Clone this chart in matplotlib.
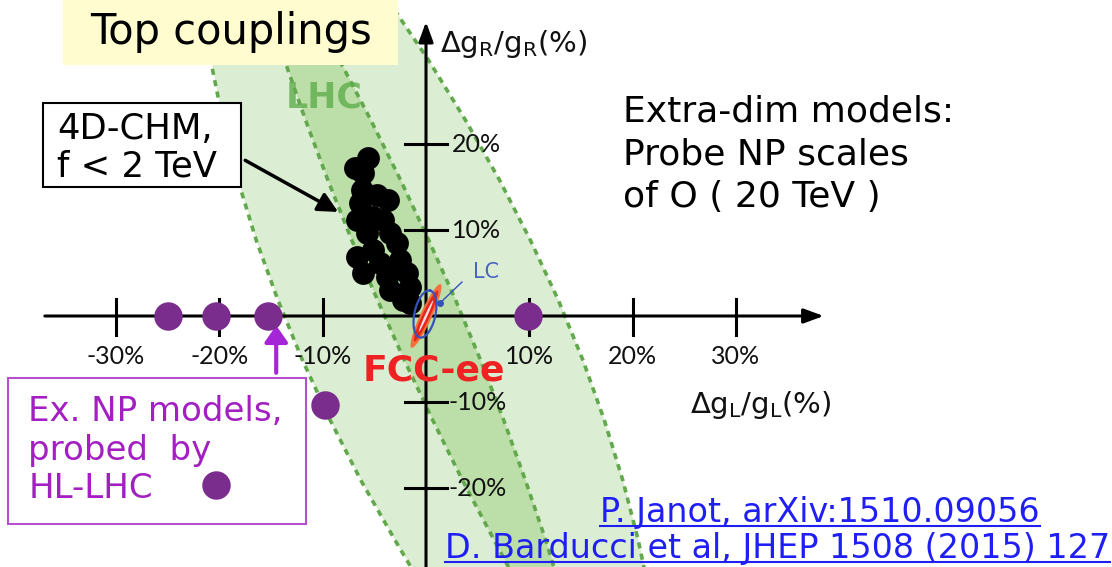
import numpy as np
import matplotlib
matplotlib.use("Agg")
import matplotlib.pyplot as plt
from matplotlib.patches import Rectangle

# ---- drawing scale (pixels per percent) and canvas ----
W, H, DPI = 1112, 567, 100
X0_PX, Y0_PX = 426, 316          # origin of the coupling plane on the canvas
PX_X, PX_Y = 10.33, 8.6          # pixels per 1 % along each axis

# ---- LHC allowed region: band edges sampled along dgR/gR (%) ----
band_y = [36.7, 29.8, 22.8, 15.8, 8.8, 1.9, -5.1, -12.1, -19.1, -26.0, -29.2]
outer_left = [-21.74, -20.86, -19.68, -18.21, -16.43, -14.35, -11.97, -9.28, -6.31, -3.03, -1.46]
outer_right = [-3.68, 0.22, 3.81, 7.12, 10.11, 12.79, 15.18, 17.26, 19.05, 20.53, 21.1]
inner_left = [-15.6, -13.71, -11.67, -9.5, -7.18, -4.71, -2.11, 0.65, 3.53, 6.57, 7.99]
inner_right = [-11.61, -8.4, -5.35, -2.46, 0.27, 2.85, 5.27, 7.52, 9.62, 11.57, 12.38]

# ---- 4D composite Higgs model points (f < 2 TeV) ----
chm_x = [-5.58, -6.87, -6.07, -6.22, -4.77, -3.65, -6.39, -6.71, -5.10, -4.13, -5.74, -3.48,
         -2.83, -6.71, -5.10, -4.45, -2.51, -6.07, -1.87, -3.80, -3.48, -1.55, -2.19, -1.55]
chm_y = [18.34, 17.17, 16.59, 14.65, 14.07, 13.49, 13.10, 11.16, 11.55, 11.16, 9.62, 9.62,
         8.45, 6.90, 7.67, 6.13, 6.51, 4.97, 4.97, 4.57, 3.02, 3.41, 1.86, 1.48]

# ---- example NP models probed by HL-LHC ----
np_x = [-25.0, -20.3, -15.3, 9.9, -9.8, -20.3]
np_y = [0.0, 0.0, 0.0, 0.0, -10.3, -19.7]

# ---- axis ticks ----
xticks = [-30, -20, -10, 10, 20, 30]
xtick_labels = ["-30%", "-20%", "-10%", "10%", "20%", "30%"]
yticks = [20, 10, -10, -20]
ytick_labels = ["20%", "10%", "-10%", "-20%"]

# ---- colours ----
C_LIGHT = "#dbedd2"
C_DARK = "#bcdea9"
C_DASH = "#62a84c"
C_PURPLE = "#7a2d8c"
C_MAGENTA = "#a31fc2"
C_LINK = "#1f1ff5"

fig = plt.figure(figsize=(W / DPI, H / DPI), dpi=DPI)
ax = fig.add_axes([0, 0, 1, 1])
ax.set_xlim((0 - X0_PX) / PX_X, (W - X0_PX) / PX_X)
ax.set_ylim((Y0_PX - H) / PX_Y, Y0_PX / PX_Y)
ax.axis("off")


def ellipse_xy(cx, cy, a_px, b_px, ang_deg, n=120):
    """Ellipse given in screen pixels, returned in data coordinates."""
    t = np.linspace(0, 2 * np.pi, n)
    th = np.deg2rad(ang_deg)
    ex = a_px * np.cos(t) * np.cos(th) - b_px * np.sin(t) * np.sin(th)
    ey = a_px * np.cos(t) * np.sin(th) + b_px * np.sin(t) * np.cos(th)
    return cx + ex / PX_X, cy + ey / PX_Y


# LHC bands
ax.fill_betweenx(band_y, outer_left, outer_right, color=C_LIGHT, lw=0, zorder=1)
ax.fill_betweenx(band_y, inner_left, inner_right, color=C_DARK, lw=0, zorder=1.1)
for edge in (outer_left, outer_right, inner_left, inner_right):
    ax.plot(edge, band_y, color=C_DASH, lw=2.6, dashes=(1.7, 1.5), zorder=1.2)
ax.text(-9.9, 25.4, "LHC", color="#5fae4c", alpha=0.8, fontsize=25, fontweight="bold",
        ha="center", va="center", zorder=1.3)

# coordinate axes with arrow heads
arrow_kw = dict(arrowstyle="-|>,head_length=0.6,head_width=0.22", lw=2.2, color="black",
                shrinkA=0, shrinkB=0, mutation_scale=20)
ax.annotate("", xy=(38.5, 0), xytext=(-36.9, 0), arrowprops=arrow_kw, zorder=3)
ax.annotate("", xy=(0, 34.2), xytext=(0, -29.4), arrowprops=arrow_kw, zorder=3)
for xt, lab in zip(xticks, xtick_labels):
    ax.plot([xt, xt], [-2.2, 2.0], color="black", lw=2.2, zorder=3)
    ax.text(xt, -4.7, lab, fontsize=18, family=["Lato", "DejaVu Sans"], ha="center",
            va="center", color="#111111", zorder=3)
for yt, lab in zip(yticks, ytick_labels):
    ax.plot([-2.0, 2.0], [yt, yt], color="black", lw=2.2, zorder=3)
    ax.text(2.5 if yt > 0 else 2.2, yt, lab, fontsize=18, family=["Lato", "DejaVu Sans"],
            ha="left", va="center", color="#111111", zorder=3)
ax.text(1.4, 31.6, r"$\Delta$g$_\mathregular{R}$/g$_\mathregular{R}$(%)", fontsize=21,
        ha="left", va="center", color="#111111", zorder=3)
ax.text(25.6, -10.4, r"$\Delta$g$_\mathregular{L}$/g$_\mathregular{L}$(%)", fontsize=21,
        ha="left", va="center", color="#111111", zorder=3)

# composite Higgs scan points
ax.scatter(chm_x, chm_y, s=270, color="black", lw=0, zorder=4)

# FCC-ee and LC precision contours around the SM point
ex, ey = ellipse_xy(0.0, 0.0, 35, 5.8, 65.4)
ax.fill(ex, ey, color="#f4703c", lw=0, zorder=5)
ex, ey = ellipse_xy(0.0, 0.0, 28, 3.8, 65.4)
ax.fill(ex, ey, color="#e5261c", lw=0, zorder=5.1)
ex, ey = ellipse_xy(0.0, 0.0, 17, 1.2, 65.4)
ax.fill(ex, ey, color="white", alpha=0.85, lw=0, zorder=5.2)
ex, ey = ellipse_xy(-0.1, 0.23, 24, 10.5, 77.7)
ax.plot(ex, ey, color="#3552b8", lw=1.6, zorder=5.3)
ax.plot([1.36, 3.48], [1.51, 3.95], color="#3552b8", lw=1.0, zorder=5.3)
ax.plot([1.36], [1.51], "o", color="#3552b8", ms=4, zorder=5.3)
ax.text(5.8, 5.1, "LC", color="#4a64c0", fontsize=15, ha="center", va="center", zorder=5.3)
ax.text(0.8, -6.3, "FCC-ee", color="#ee2222", fontsize=26, fontweight="bold",
        ha="center", va="center", zorder=5.4)

# title tag
ax.add_patch(Rectangle((-35.14, 29.19), 32.43, 8.0, facecolor="#fffdd0", edgecolor="none",
                       zorder=6))
ax.text(-18.9, 33.0, "Top couplings", fontsize=30, ha="center", va="center", color="black",
        zorder=6.1)

# 4D-CHM call-out
ax.add_patch(Rectangle((-37.08, 15.0), 19.17, 9.77, facecolor="white", edgecolor="black",
                       lw=1.5, zorder=6))
ax.text(-35.7, 19.6, "4D-CHM,\nf < 2 TeV", fontsize=25.5, ha="left", va="center",
        linespacing=1.12, color="black", zorder=6.1)
ax.annotate("", xy=(-8.5, 12.1), xytext=(-17.5, 18.1),
            arrowprops=dict(arrowstyle="-|>,head_length=0.6,head_width=0.3", lw=2.5,
                            color="black", shrinkA=0, shrinkB=0, mutation_scale=20), zorder=6)

# HL-LHC call-out
ax.add_patch(Rectangle((-40.46, -24.19), 28.84, 16.98, facecolor="white", edgecolor="#b64fd0",
                       lw=1.5, zorder=6))
ax.text(-38.5, -15.6, "Ex. NP models,\nprobed  by\nHL-LHC", fontsize=24.5, ha="left",
        va="center", linespacing=1.2, color=C_MAGENTA, zorder=6.1)
ax.annotate("", xy=(-14.5, -1.1), xytext=(-14.5, -6.6),
            arrowprops=dict(arrowstyle="-|>,head_length=0.5,head_width=0.35", lw=3,
                            color="#a526d6", shrinkA=0, shrinkB=0, mutation_scale=20), zorder=6)

# NP model points (drawn over the call-out box)
ax.scatter(np_x, np_y, s=420, color=C_PURPLE, lw=0, zorder=6.5)

# extra-dimension statement
ax.text(19.1, 25.7, "Extra-dim models:\nProbe NP scales\nof O ( 20 TeV )", fontsize=26,
        ha="left", va="top", linespacing=1.32, color="black", zorder=6)

# references (underlined)
refs = [
    ax.text(59.4, -22.8, "P. Janot, arXiv:1510.09056", fontsize=24, ha="right", va="center",
            color=C_LINK, zorder=7),
    ax.text(66.2, -27.0, "D. Barducci et al, JHEP 1508 (2015) 127", fontsize=24, ha="right",
            va="center", color=C_LINK, zorder=7),
]
fig.canvas.draw()
renderer = fig.canvas.get_renderer()
inv = ax.transData.inverted()
for t in refs:
    bb = t.get_window_extent(renderer)
    (x_a, y_a), (x_b, _) = inv.transform([[bb.x0, bb.y0 + 3], [bb.x1, bb.y0 + 3]])
    ax.plot([x_a, x_b], [y_a, y_a], color=C_LINK, lw=1.5, zorder=7)

fig.savefig("out.png", dpi=DPI)
